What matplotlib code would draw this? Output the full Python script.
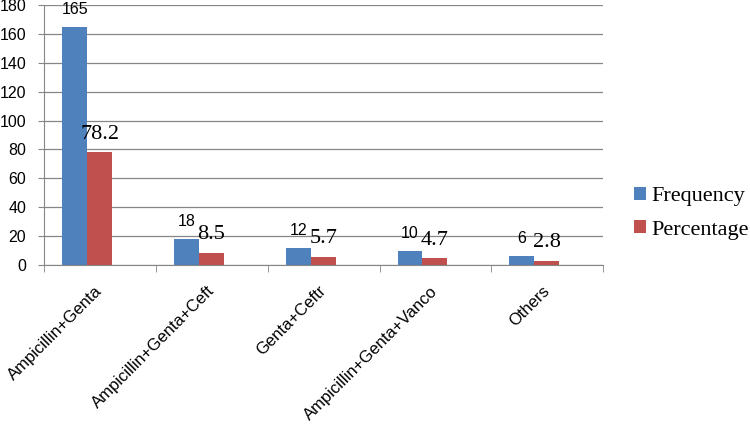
import numpy as np
import matplotlib.pyplot as plt

categories = ["Ampicillin+Genta", "Ampicillin+Genta+Ceft", "Genta+Ceftr",
              "Ampicillin+Genta+Vanco", "Others"]
frequency = [165, 18, 12, 10, 6]
percentage = [78.2, 8.5, 5.7, 4.7, 2.8]

BLUE = "#4F81BD"
RED = "#C0504D"
GRID = "#868686"

fig = plt.figure(figsize=(7.5, 4.24), dpi=100)
ax = fig.add_axes([0.059, 0.375, 0.745, 0.613])

x = np.arange(len(categories))
w = 0.223
bf = ax.bar(x - 0.227, frequency, w, color=BLUE, label="Frequency")
bp = ax.bar(x - 0.004, percentage, w, color=RED, label="Percentage")

# value labels above bars
for b, v in zip(bf, frequency):
    ax.annotate(str(v), (b.get_x() + b.get_width() / 2, v), xytext=(0, 12.5),
                textcoords="offset points", ha="center", va="center",
                fontsize=11.5, family="Liberation Sans")
for b, v in zip(bp, percentage):
    ax.annotate(f"{v}", (b.get_x() + b.get_width() / 2, v), xytext=(0, 13),
                textcoords="offset points", ha="center", va="center",
                fontsize=16, family="Liberation Serif")

ax.set_ylim(0, 180)
ax.set_yticks(range(0, 181, 20))
ax.set_xlim(-0.5, len(categories) - 0.5)
ax.grid(axis="y", color=GRID, linewidth=0.9)
ax.set_axisbelow(True)
for s in ["top", "right"]:
    ax.spines[s].set_visible(False)
for s in ["left", "bottom"]:
    ax.spines[s].set_color(GRID)

ax.set_xticks(x)
ax.set_xticklabels(categories, rotation=45, ha="right", va="center",
                   rotation_mode="anchor", fontsize=12, family="Liberation Sans")
ax.tick_params(axis="x", which="major", length=0, pad=17)
ax.set_xticks(np.arange(-0.5, len(categories)), minor=True)
ax.tick_params(axis="x", which="minor", length=5, color=GRID, direction="out")
ax.tick_params(axis="y", length=4, color=GRID, labelsize=11.5, pad=9)
for t in ax.get_yticklabels():
    t.set_family("Liberation Sans")

fig.legend(handles=[bf, bp], labels=["Frequency", "Percentage"],
           loc="center left", bbox_to_anchor=(0.845, 0.497), frameon=False,
           borderpad=0, borderaxespad=0,
           prop={"family": "Liberation Serif", "size": 16},
           handlelength=0.54, handleheight=0.54, handletextpad=0.27,
           labelspacing=0.62)

fig.savefig("out.png", dpi=100)
